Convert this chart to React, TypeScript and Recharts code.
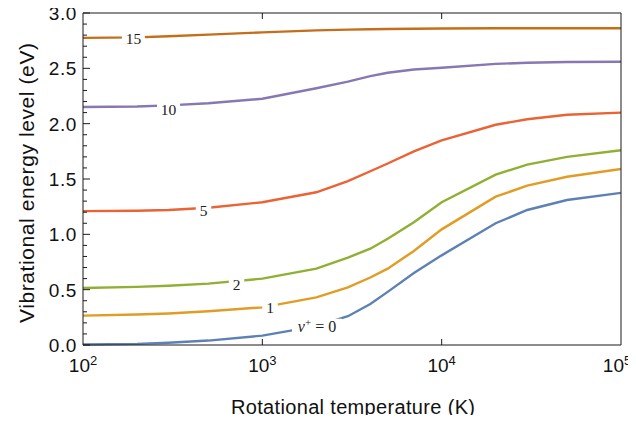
import React from 'react'
import { ComposedChart, Line, XAxis, YAxis, ReferenceDot, Label } from 'recharts'

// rotational temperature (K)
const temps = [100, 200, 300, 500, 1000, 2000, 3000, 4000, 5000, 7000, 10000, 20000, 30000, 50000, 100000]

// mean vibrational energy (eV) per v+ level
const level0 = [0.005, 0.01, 0.02, 0.04, 0.085, 0.17, 0.26, 0.37, 0.48, 0.65, 0.81, 1.1, 1.22, 1.31, 1.375]
const level1 = [0.265, 0.275, 0.285, 0.305, 0.34, 0.43, 0.52, 0.61, 0.69, 0.85, 1.045, 1.34, 1.44, 1.52, 1.59]
const level2 = [0.515, 0.525, 0.535, 0.555, 0.6, 0.69, 0.79, 0.87, 0.96, 1.11, 1.29, 1.54, 1.63, 1.7, 1.76]
const level5 = [1.21, 1.213, 1.22, 1.24, 1.29, 1.38, 1.48, 1.57, 1.64, 1.75, 1.85, 1.99, 2.04, 2.08, 2.1]
const level10 = [2.15, 2.155, 2.165, 2.185, 2.225, 2.32, 2.38, 2.43, 2.46, 2.49, 2.505, 2.54, 2.55, 2.557, 2.56]
const level15 = [2.775, 2.78, 2.79, 2.805, 2.825, 2.843, 2.85, 2.853, 2.855, 2.858, 2.86, 2.862, 2.862, 2.862, 2.862]

const xTicks = [100, 1000, 10000, 100000]
const yTicks = [0, 0.1, 0.2, 0.3, 0.4, 0.5, 0.6, 0.7, 0.8, 0.9, 1, 1.1, 1.2, 1.3, 1.4, 1.5, 1.6, 1.7, 1.8, 1.9, 2,
  2.1, 2.2, 2.3, 2.4, 2.5, 2.6, 2.7, 2.8, 2.9, 3]

// inline curve labels: where they sit (T, E) and what they say
const labelTemps = [191, 300, 470, 718, 1104, 2018]
const labelEnergies = [2.765, 2.13, 1.215, 0.548, 0.338, 0.165]
const labelTexts = ['15', '10', '5', '2', '1', '0']

const series = [
  { key: 'v0', values: level0, color: '#5e81b5' },
  { key: 'v1', values: level1, color: '#e19c24' },
  { key: 'v2', values: level2, color: '#8fb032' },
  { key: 'v5', values: level5, color: '#eb6235' },
  { key: 'v10', values: level10, color: '#8778b3' },
  { key: 'v15', values: level15, color: '#c56e1a' },
]

const data = temps.map((T, i) => {
  const row: Record<string, number> = { T }
  series.forEach(s => { row[s.key] = s.values[i] })
  return row
})

const AXIS = '#1a1a1a'
const SANS = '"Liberation Sans", Arial, sans-serif'
const SERIF = '"Liberation Serif", "Times New Roman", serif'

const isMajor = (v: number) => Math.abs(v * 2 - Math.round(v * 2)) < 1e-6

const BottomTick = (props: any) => {
  const { x, y, payload } = props
  const exp = Math.round(Math.log10(payload.value))
  const inner = exp > 2 && exp < 5
  // last label is nudged in so it stays on the canvas
  const tx = exp === 5 ? x - 4 : x
  return (
    <g>
      {inner && <line x1={x} x2={x} y1={y} y2={y - 6} stroke={AXIS} strokeWidth={1} />}
      <text x={tx} y={y + 27} textAnchor="middle" fontSize={19} fontFamily={SANS} fill="#111">
        10<tspan dy={-7} fontSize={13}>{exp}</tspan>
      </text>
    </g>
  )
}

const TopTick = (props: any) => {
  const { x, y, payload } = props
  const exp = Math.round(Math.log10(payload.value))
  if (exp <= 2 || exp >= 5) return <g />
  return <line x1={x} x2={x} y1={y} y2={y + 6} stroke={AXIS} strokeWidth={1} />
}

const LeftTick = (props: any) => {
  const { x, y, payload } = props
  const v = payload.value as number
  const major = isMajor(v)
  return (
    <g>
      <line x1={x} x2={x + (major ? 7 : 4)} y1={y} y2={y} stroke={AXIS} strokeWidth={1} />
      {major && (
        <text x={x - 6} y={y} dy="0.36em" textAnchor="end" fontSize={19} letterSpacing={0.6}
          fontFamily={SANS} fill="#111">
          {v.toFixed(1)}
        </text>
      )}
    </g>
  )
}

const RightTick = (props: any) => {
  const { x, y, payload } = props
  const major = isMajor(payload.value)
  return <line x1={x} x2={x - (major ? 7 : 4)} y1={y} y2={y} stroke={AXIS} strokeWidth={1} />
}

const CurveLabel = (text: string) => (props: any) => {
  const { cx, cy } = props
  if (cx == null || cy == null) return <g />
  const isZero = text === '0'
  const w = isZero ? 50 : text.length * 7.5 + 8
  return (
    <g>
      <rect x={cx - w / 2} y={cy - 8} width={w} height={16} fill="#fff" />
      {isZero ? (
        <text x={cx} y={cy} dy="0.35em" textAnchor="middle" fontSize={16} fontFamily={SERIF} fill="#222">
          <tspan fontStyle="italic">v</tspan>
          <tspan dy={-6} fontSize={11}>+</tspan>
          <tspan dy={6}> = 0</tspan>
        </text>
      ) : (
        <text x={cx} y={cy} dy="0.35em" textAnchor="middle" fontSize={15.5} fontFamily={SERIF} fill="#222">
          {text}
        </text>
      )}
    </g>
  )
}

export default function App() {
  return (
    <div style={{ margin: -8, width: 636, height: 423, background: '#fff' }}>
      <ComposedChart width={636} height={423} data={data} margin={{ top: 12, right: 14, bottom: 18, left: 23 }}>
        <XAxis xAxisId="bottom" dataKey="T" type="number" scale="log" domain={[100, 100000]} ticks={xTicks}
          interval={0} allowDataOverflow height={60} tickSize={0} tickMargin={0} tickLine={false}
          axisLine={{ stroke: AXIS, strokeWidth: 1 }} tick={<BottomTick />}>
          <Label content={() => (
            <text x={353} y={414} textAnchor="middle" fontSize={20} textLength={244} lengthAdjust="spacing"
              fontFamily={SANS} fill="#111">
              Rotational temperature (K)
            </text>
          )} />
        </XAxis>
        <XAxis xAxisId="top" orientation="top" dataKey="T" type="number" scale="log" domain={[100, 100000]}
          ticks={xTicks} interval={0} allowDataOverflow height={1} tickSize={0} tickMargin={0} tickLine={false}
          axisLine={{ stroke: AXIS, strokeWidth: 1 }} tick={<TopTick />} />
        <YAxis yAxisId="left" type="number" domain={[0, 3]} ticks={yTicks} interval={0} width={60}
          tickSize={0} tickMargin={0} tickLine={false} axisLine={{ stroke: AXIS, strokeWidth: 1 }} tick={<LeftTick />}>
          <Label content={() => (
            <text x={34} y={183} transform="rotate(-90, 34, 183)" textAnchor="middle" fontSize={21}
              textLength={280} lengthAdjust="spacing" fontFamily={SANS} fill="#111">
              Vibrational energy level (eV)
            </text>
          )} />
        </YAxis>
        <YAxis yAxisId="right" orientation="right" type="number" domain={[0, 3]} ticks={yTicks} interval={0}
          width={1} tickSize={0} tickMargin={0} tickLine={false} axisLine={{ stroke: AXIS, strokeWidth: 1 }}
          tick={<RightTick />} />
        {series.map(s => (
          <Line key={s.key} xAxisId="bottom" yAxisId="left" type="linear" dataKey={s.key} stroke={s.color}
            strokeWidth={2.4} dot={false} activeDot={false} isAnimationActive={false} />
        ))}
        {labelTexts.map((t, i) => (
          <ReferenceDot key={t} xAxisId="bottom" yAxisId="left" x={labelTemps[i]} y={labelEnergies[i]}
            r={1} shape={CurveLabel(t)} />
        ))}
      </ComposedChart>
    </div>
  )
}
